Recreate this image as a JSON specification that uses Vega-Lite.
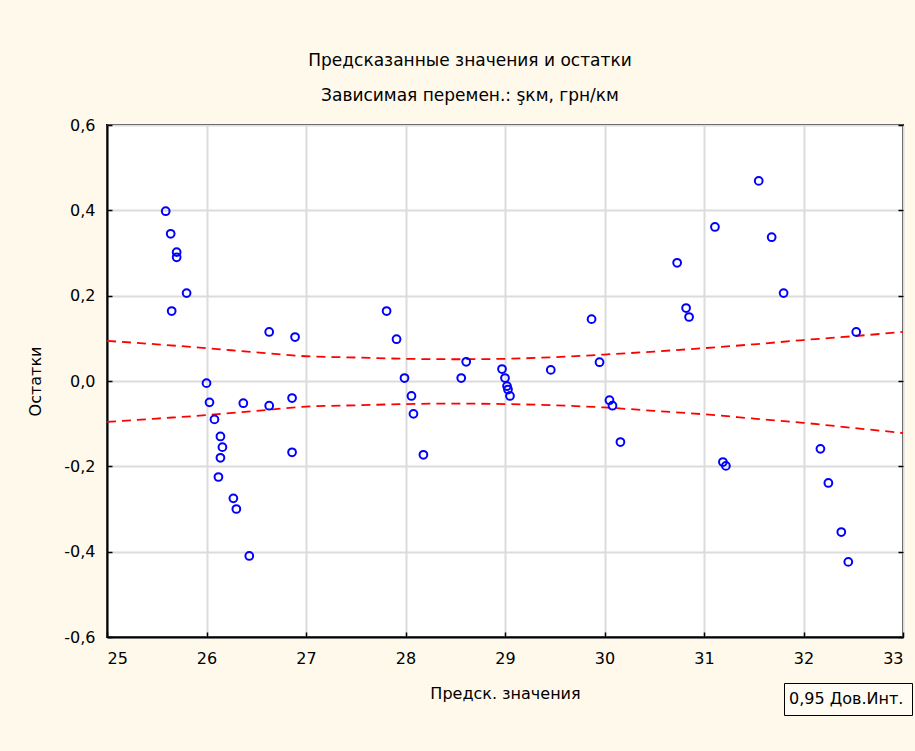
{
  "$schema": "https://vega.github.io/schema/vega-lite/v6.json",
  "width": 796,
  "height": 512,
  "autosize": {"type": "none"},
  "padding": {"left": 107, "top": 125, "right": 12, "bottom": 114},
  "background": "#FFF9EC",
  "config": {
    "font": "DejaVu Sans",
    "view": {"stroke": "#000000", "strokeWidth": 2, "fill": "#FFFFFF"},
    "axis": {
      "labelFont": "DejaVu Sans",
      "labelFontSize": 16,
      "labelColor": "#000000",
      "titleFont": "DejaVu Sans",
      "titleFontSize": 16,
      "titleFontWeight": "normal",
      "titleColor": "#000000",
      "domainColor": "#000000",
      "domainWidth": 2,
      "tickColor": "#000000",
      "tickWidth": 1.5,
      "gridColor": "#DCDCDC",
      "gridWidth": 2,
      "gridOpacity": 1
    }
  },
  "title": {
    "text": "Предсказанные значения и остатки",
    "subtitle": "Зависимая перемен.: şкм, грн/км",
    "anchor": "middle",
    "dx": -35,
    "font": "DejaVu Sans",
    "fontSize": 17,
    "fontWeight": "normal",
    "color": "#000000",
    "subtitleFont": "DejaVu Sans",
    "subtitleFontSize": 17,
    "subtitleColor": "#000000",
    "subtitlePadding": 18,
    "offset": 12
  },
  "datasets": {
    "points": [
      {"pred": 25.59, "resid": 0.398},
      {"pred": 25.64, "resid": 0.345},
      {"pred": 25.70, "resid": 0.302},
      {"pred": 25.70, "resid": 0.290},
      {"pred": 25.80, "resid": 0.206},
      {"pred": 25.65, "resid": 0.164},
      {"pred": 26.63, "resid": 0.115},
      {"pred": 26.89, "resid": 0.103},
      {"pred": 26.00, "resid": -0.005},
      {"pred": 26.03, "resid": -0.050},
      {"pred": 26.08, "resid": -0.090},
      {"pred": 26.14, "resid": -0.130},
      {"pred": 26.16, "resid": -0.155},
      {"pred": 26.14, "resid": -0.180},
      {"pred": 26.12, "resid": -0.225},
      {"pred": 26.27, "resid": -0.275},
      {"pred": 26.30, "resid": -0.300},
      {"pred": 26.43, "resid": -0.410},
      {"pred": 26.37, "resid": -0.052},
      {"pred": 26.63, "resid": -0.058},
      {"pred": 26.86, "resid": -0.040},
      {"pred": 26.86, "resid": -0.167},
      {"pred": 27.81, "resid": 0.164},
      {"pred": 27.91, "resid": 0.098},
      {"pred": 27.99, "resid": 0.007},
      {"pred": 28.06, "resid": -0.035},
      {"pred": 28.08, "resid": -0.077},
      {"pred": 28.18, "resid": -0.173},
      {"pred": 28.61, "resid": 0.045},
      {"pred": 28.56, "resid": 0.007},
      {"pred": 28.97, "resid": 0.028},
      {"pred": 29.00, "resid": 0.007},
      {"pred": 29.02, "resid": -0.012},
      {"pred": 29.03, "resid": -0.020},
      {"pred": 29.05, "resid": -0.035},
      {"pred": 29.46, "resid": 0.026},
      {"pred": 29.87, "resid": 0.145},
      {"pred": 29.95, "resid": 0.044},
      {"pred": 30.05, "resid": -0.045},
      {"pred": 30.08, "resid": -0.058},
      {"pred": 30.16, "resid": -0.143},
      {"pred": 31.55, "resid": 0.469},
      {"pred": 31.11, "resid": 0.361},
      {"pred": 31.68, "resid": 0.337},
      {"pred": 30.73, "resid": 0.277},
      {"pred": 31.80, "resid": 0.206},
      {"pred": 30.82, "resid": 0.171},
      {"pred": 30.85, "resid": 0.150},
      {"pred": 32.53, "resid": 0.115},
      {"pred": 31.19, "resid": -0.190},
      {"pred": 31.22, "resid": -0.199},
      {"pred": 32.17, "resid": -0.159},
      {"pred": 32.25, "resid": -0.239},
      {"pred": 32.38, "resid": -0.354},
      {"pred": 32.45, "resid": -0.424}
    ],
    "band": [
      {"pred": 25.0, "upper": 0.094, "lower": -0.096},
      {"pred": 25.5, "upper": 0.086, "lower": -0.088},
      {"pred": 26.0, "upper": 0.077, "lower": -0.080},
      {"pred": 26.5, "upper": 0.067, "lower": -0.070},
      {"pred": 27.0, "upper": 0.058, "lower": -0.060},
      {"pred": 27.5, "upper": 0.055, "lower": -0.057},
      {"pred": 28.0, "upper": 0.052, "lower": -0.054},
      {"pred": 28.5, "upper": 0.051, "lower": -0.053},
      {"pred": 29.0, "upper": 0.052, "lower": -0.054},
      {"pred": 29.5, "upper": 0.056, "lower": -0.057},
      {"pred": 30.0, "upper": 0.062, "lower": -0.062},
      {"pred": 30.5, "upper": 0.069, "lower": -0.070},
      {"pred": 31.0, "upper": 0.077, "lower": -0.078},
      {"pred": 31.5, "upper": 0.086, "lower": -0.088},
      {"pred": 32.0, "upper": 0.096, "lower": -0.098},
      {"pred": 32.5, "upper": 0.105, "lower": -0.110},
      {"pred": 33.0, "upper": 0.115, "lower": -0.122}
    ]
  },
  "resolve": {"axis": {"y": "independent"}},
  "layer": [
    {
      "data": {"name": "band"},
      "mark": {"type": "line", "color": "#FF0000", "strokeWidth": 1.8, "interpolate": "monotone"},
      "encoding": {
        "x": {
          "field": "pred", "type": "quantitative",
          "scale": {"domain": [25, 33], "nice": false, "zero": false},
          "axis": {
            "title": "Предск. значения",
            "values": [25, 26, 27, 28, 29, 30, 31, 32, 33],
            "format": "d",
            "tickSize": -5,
            "labelPadding": 18,
            "titlePadding": 19,
            "grid": true
          }
        },
        "y": {
          "field": "upper", "type": "quantitative",
          "scale": {"domain": [-0.6, 0.6], "nice": false, "zero": false},
          "axis": {
            "title": "Остатки",
            "orient": "left",
            "values": [-0.6, -0.4, -0.2, 0, 0.2, 0.4, 0.6],
            "labelExpr": "replace(replace(format(datum.value, '.1f'), '.', ','), '−', '-')",
            "tickSize": -5,
            "labelPadding": 17,
            "titlePadding": 20,
            "grid": true
          }
        },
        "strokeDash": {
          "datum": "0,95 Дов.Инт.",
          "type": "nominal",
          "scale": {"range": [[9, 6]]},
          "legend": {
            "title": null,
            "orient": "none",
            "legendX": 677,
            "legendY": 558,
            "strokeColor": "#000000",
            "fillColor": "#FFFCF4",
            "padding": 8,
            "symbolOpacity": 0,
            "symbolSize": 1,
            "labelOffset": -19,
            "labelFont": "DejaVu Sans",
            "labelFontSize": 16,
            "labelColor": "#000000"
          }
        }
      }
    },
    {
      "data": {"name": "band"},
      "mark": {"type": "line", "color": "#FF0000", "strokeWidth": 1.8, "interpolate": "monotone"},
      "encoding": {
        "x": {"field": "pred", "type": "quantitative"},
        "y": {
          "field": "lower", "type": "quantitative",
          "axis": {
            "orient": "right",
            "title": null,
            "labels": false,
            "domain": false,
            "values": [-0.6, -0.4, -0.2, 0, 0.2, 0.4, 0.6],
            "tickSize": -5,
            "grid": false
          }
        },
        "strokeDash": {"datum": "0,95 Дов.Инт.", "type": "nominal"}
      }
    },
    {
      "mark": {"type": "rule", "color": "#FF0000", "strokeWidth": 2},
      "encoding": {"y": {"datum": 0, "type": "quantitative", "axis": null}}
    },
    {
      "data": {"name": "points"},
      "mark": {"type": "point", "shape": "circle", "filled": false, "color": "#0000FF", "size": 60, "strokeWidth": 2, "opacity": 1},
      "encoding": {
        "x": {"field": "pred", "type": "quantitative"},
        "y": {"field": "resid", "type": "quantitative", "axis": null}
      }
    }
  ]
}
